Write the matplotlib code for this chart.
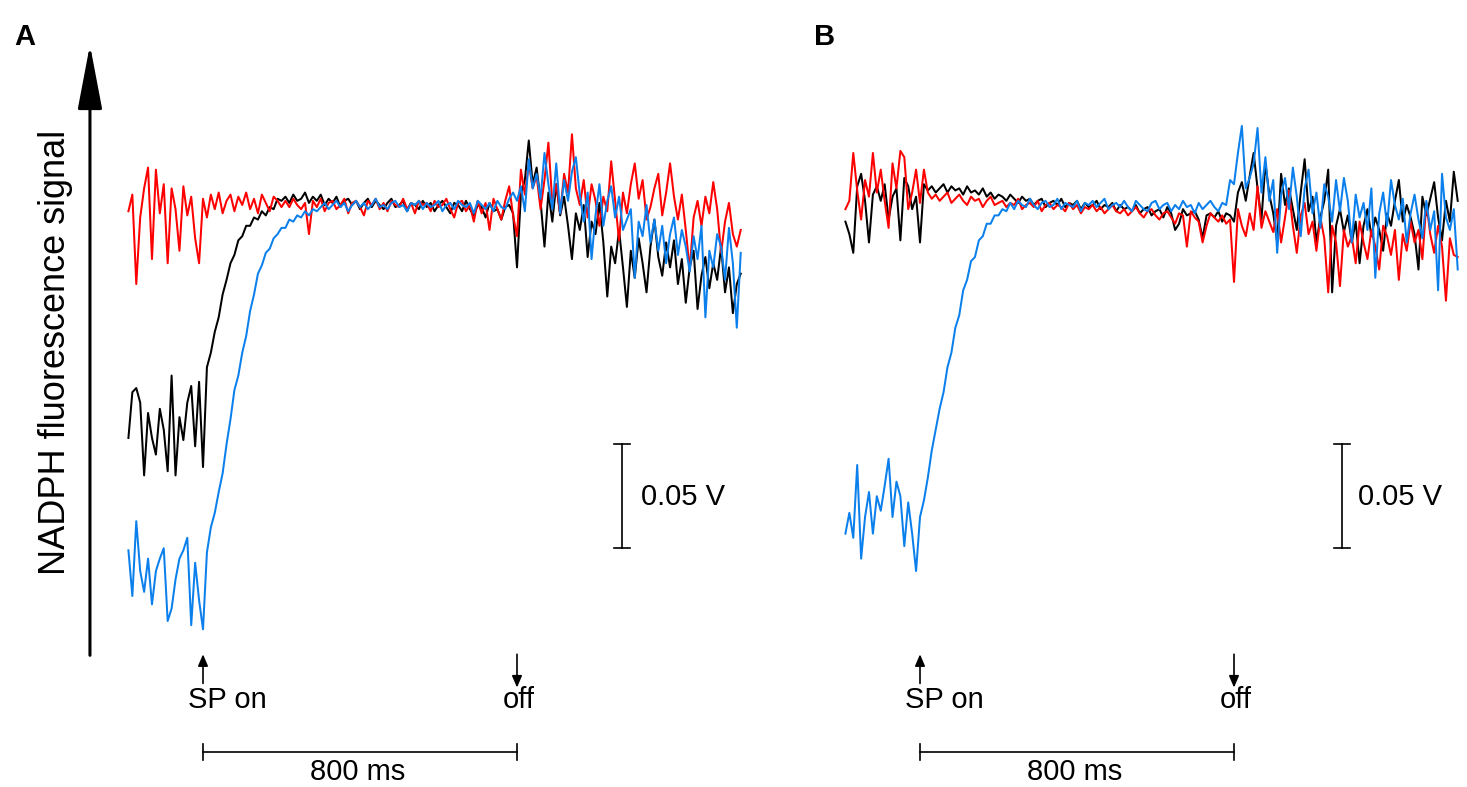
import numpy as np
import matplotlib
matplotlib.use("Agg")
import matplotlib.pyplot as plt

plt.rcParams['font.family'] = ['Liberation Sans', 'DejaVu Sans']

# ---------------- data ----------------
# time relative to saturating pulse (SP) onset, ms
t_ms = np.arange(-190, 1371, 10)
sp_on_ms = 0
sp_off_ms = 800

# NADPH fluorescence signal, mV relative to the light plateau
a_black = [
    -112, -90, -88, -95, -130, -100, -112, -120, -98, -108, -128, -82, -130, -102, -113, -95, -87, -116, -85, -126,
    -78, -71, -61, -54, -43, -36, -28, -24, -17, -15, -10, -10, -6, -7, -3, -5, -1, -2, 3, 2,
    4, 1, 5, 2, 3, 6, 1, 4, 2, 5, 0, 3, 1, 4, -1, 2, 3, 0, 2, -2, 1, 3, -1, 2, 0, -2, 1, 3, -1, 0,
    2, -3, 1, 0, -2, 2, -1, 1, -3, 0, 2, -1, -4, 1, 0, -3, 2, -2, -5, 0, -1, -6, 1, -3, -2, -7, -1, 0, -4,
    -30, 5, 12, 31, 10, 18, 2, -20, 6, -8, 10, -5, 4, -10, -26, -4, -12, 0, -25, -8,
    -14, 1, -18, -44, -20, -28, -12, -30, -49, -22, -35, -16, -28, -42, -20, -7, -25, -34, -18, -30,
    -17, -38, -26, -47, -30, -22, -50, -34, -25, -40, -28, -36, -20, -42, -30, -52, -38, -33,
]
a_red = [
    -3, 5, -38, -6, 8, 18, -26, 17, -4, 10, -28, 8, -2, -22, 9, -5, 4, -16, -28,
    3, -6, 5, -2, 6, -4, 2, 5, -3, 4, 0, 6, -2, 3, -4, 5, 1, -3, 4, 2, -1,
    2, -1, 3, 0, -2, 1, -14, 2, -1, 3, -3, 1, 2, -2, 0, 3, -4, 1, 2, -1, -5, 2, 0, 3, -2, 1, -3, 2, 0, -1,
    3, -2, 1, -4, 2, 0, 1, -3, 2, -1, 0, 3, -2, -6, 1, 2, -3, 0, -8, 2, -4, 1, -12, 3, -2, -7, 2, 9, -5,
    -15, 17, 5, 20, 8, 14, -2, 12, 30, 1, 10, -4, 15, 6, 34, 8, 0, 12, -6, 10,
    2, -10, 4, -3, 21, 2, -17, 6, -4, 10, 20, 3, 12, -7, -1, 8, 15, -5, 6, 20,
    4, -7, 5, -12, -31, -6, 2, -10, 4, -4, 11, -2, -23, -8, 1, -14, -20, -12,
]
a_blue = [
    -166, -188, -152, -176, -186, -170, -192, -176, -170, -165, -200, -194, -180, -170, -166, -160, -202, -172, -190, -204,
    -167, -155, -148, -138, -129, -115, -103, -89, -82, -71, -63, -51, -43, -33, -29, -23, -21, -16, -14, -11,
    -11, -7, -8, -5, -6, -3, -5, -2, -3, -1,
    1, -2, 0, 2, -1, 1, -3, 0, 2, -1, 1, -2, 0, 3, -1, 0, -2, 1, 2, -1, 0, -3, 1, 0, 2, -2, 1, -1, 0, 2,
    -3, 0, 1, -2, 2, 0, -1, 1, -4, 2, 0, -2, 1, -3, 2, -1, -2, 3, 6,
    2, 9, -3, 22, 8, 15, 3, 25, 10, -2, 20, -4, 12, 2, 16, 23, 5, -8, 6, -26,
    -5, 10, -10, 2, 9, -6, 4, -12, -7, -2, -35, -8, -15, 0, -18, -7, -22, -10, -28, -14,
    -6, -24, -12, -20, -32, -15, -26, -10, -54, -22, -30, -14, -20, -36, -11, -28, -59, -23,
]

b_black = [
    -8, -14, -23, 9, 15, 2, -18, 5, 9, 2, 10, -7, 4, 8, -17, 13, 9, -2, 4, -18,
    10, 7, 9, 6, 8, 10, 6, 9, 7, 8, 5, 9, 6, 7, 5, 8, 4, 6, 3, 5,
    4, 2, 5, 3, 1, 4, 2, 3, 0, 2, 3, -1, 1, 2, 0, 3, -1, 1, 0, 2, -2, 1, -1, 0, 2, -2, 0, -1, 1, -3,
    0, -2, -1, -3, 0, -4, -2, -1, -5, -3, -2, -6, -1, -4, -12, -9, -2, -5, -4, -3, -7, -16, -5, -4, -6, -3, -8, -4, -5,
    -8, 6, 11, 2, 14, 25, 8, -7, 20, 5, -4, -18, 15, 0, 8, -2, -12, 6, 22, -3,
    4, -18, -6, 2, 17, -42, -10, -2, -13, -5, -18, -8, -28, -10, -2, -15, -6, -12, -22, -4,
    -10, 2, 12, -8, 0, -6, -14, -31, 4, -5, 3, 11, -6, -17, 2, -8, 16, 2,
]
b_red = [
    -2, 2, 25, 7, -7, 12, 4, 25, 6, 17, 2, -11, 20, 8, 26, 23, -2, 6, 17, 1,
    17, 6, 3, 5, 2, 4, 6, 1, 3, 5, 2, 0, 4, 2, 3, -1, 2, 4, 0, 1,
    2, -1, 1, 0, 3, -2, 0, 1, -1, 2, -3, 0, 1, -2, 0, -1, -3, 1, -2, 0, -4, -1, -2, 0, -3, -1, -4, -2, 0, -3,
    -4, -2, -5, -3, -1, -4, -6, -3, -2, -5, -7, -4, -3, -6, -9, -4, -5, -20, -3, -6, -8, -18, -10, -4, -6, -8, -5, -9, -7,
    -37, -2, -10, -15, -4, -12, 9, -11, -3, -8, -13, -2, -18, -6, 7, -10, -23, -5, 1, -14,
    -8, -22, -6, -16, -42, -10, -18, -39, -12, -20, -15, -28, -8, -18, -26, -12, -20, -31, -10, -15,
    -24, -12, -36, -14, -22, -8, -18, -12, -26, 1, -14, -23, -10, -20, -46, -16, -24, -25,
]
b_blue = [
    -158, -148, -160, -125, -170, -150, -138, -158, -140, -147, -135, -122, -150, -133, -140, -164, -143, -158, -176, -150,
    -142, -131, -118, -108, -98, -90, -78, -71, -59, -53, -41, -36, -27, -25, -17, -15, -9, -9, -5, -5, -2, -3,
    1, -2, 2, 0, -1, 3, 0, -2, 1, 2, -1, 0, 3, -2, 1, 0, -1, 2, -3, 1, 0, 2, -1, 1, 3, -2, 0, 1, -1, 2,
    -1, -3, 2, 0, -2, -3, 1, 2, -2, 0, 1, -3, 0, -2, 2, -1, 0, -4, 1, -2, 0, 2, -1, -3, 1, 0, 12,
    10, 25, 38, 8, 13, 20, 37, 6, 23, 2, 12, -23, 5, 13, -2, 18, 4, -15, 8, 17,
    -4, 6, -11, 10, 4, -8, 12, -3, 13, 2, -18, 5, -6, 1, -12, 8, -35, -4, 6, -10,
    12, 0, -7, 3, -18, -4, 5, -7, -16, 2, -12, -3, -41, 15, -6, -12, -2, -31,
]

scale_v_mV = 50      # 0.05 V
scale_t_ms = 800
panel_labels = ['A', 'B']
scale_text = '0.05 V'
time_text = '800 ms'
ylabel_text = 'NADPH fluorescence signal'

# ---------------- layout ----------------
W, H = 1467, 787
fig = plt.figure(figsize=(W / 100, H / 100), dpi=100)
PX_MS = 0.3925   # px per ms
PX_MV = 2.08     # px per mV
BASE_PX = 205    # pixel row of the plateau


def make_axes(left_px, right_px, onset_px):
    ax = fig.add_axes([left_px / W, 0, (right_px - left_px) / W, 1])
    ax.set_xlim((left_px - onset_px) / PX_MS, (right_px - onset_px) / PX_MS)
    ax.set_ylim((BASE_PX - H) / PX_MV, BASE_PX / PX_MV)
    ax.axis('off')
    return ax


axA = make_axes(0, 790, 203)
axB = make_axes(790, 1467, 920)

BLUE = '#0B80EC'
RED = '#FF0000'
LW = 1.45

for ax, (blk, red, blu) in zip([axA, axB], [(a_black, a_red, a_blue), (b_black, b_red, b_blue)]):
    ax.plot(t_ms, blk, color='black', lw=LW, zorder=2)
    ax.plot(t_ms, red, color=RED, lw=LW, zorder=3)
    ax.plot(t_ms, blu, color=BLUE, lw=LW, zorder=4)

    # SP on / off arrows
    small = dict(arrowstyle='-|>,head_length=0.7,head_width=0.3', mutation_scale=10,
                 lw=1.2, color='black', shrinkA=0, shrinkB=0)
    ax.annotate('', xy=(sp_on_ms, -216), xytext=(sp_on_ms, -230), arrowprops=small)
    ax.annotate('', xy=(sp_off_ms, -232), xytext=(sp_off_ms, -216), arrowprops=small)
    ax.text(sp_on_ms + 62, -238, 'SP on', ha='center', va='center', fontsize=21)
    ax.text(sp_off_ms + 4, -238, 'off', ha='center', va='center', fontsize=21)

    # time scale bar
    ax.plot([sp_on_ms, sp_on_ms + scale_t_ms], [-263, -263], color='black', lw=1.2)
    for xx in (sp_on_ms, sp_on_ms + scale_t_ms):
        ax.plot([xx, xx], [-259, -267], color='black', lw=1.2)
    ax.text(sp_on_ms + scale_t_ms / 2 - 6, -272.5, time_text, ha='center', va='center', fontsize=21)

    # voltage scale bar
    xs = 1067 if ax is axA else 1075
    ax.plot([xs, xs], [-165, -165 + scale_v_mV], color='black', lw=1.2)
    for yy in (-165, -165 + scale_v_mV):
        ax.plot([xs - 20, xs + 20], [yy, yy], color='black', lw=1.2)
    ax.text(1116, -140.4, scale_text, ha='left', va='center', fontsize=21)

# panel letters
axA.text(-482, 81, panel_labels[0], ha='left', va='center', fontsize=21, fontweight='bold')
axB.text(-270, 81, panel_labels[1], ha='left', va='center', fontsize=21, fontweight='bold')

# y axis arrow and label (panel A)
big = dict(arrowstyle='-|>,head_length=2.0,head_width=0.38', mutation_scale=20,
           lw=2.2, color='black', shrinkA=0, shrinkB=0)
axA.annotate('', xy=(-288, 77), xytext=(-288, -216.5), arrowprops=big)
axA.text(-377, -70.7, ylabel_text, rotation=90, ha='center', va='center', fontsize=26)

fig.savefig('out.png', dpi=100)
